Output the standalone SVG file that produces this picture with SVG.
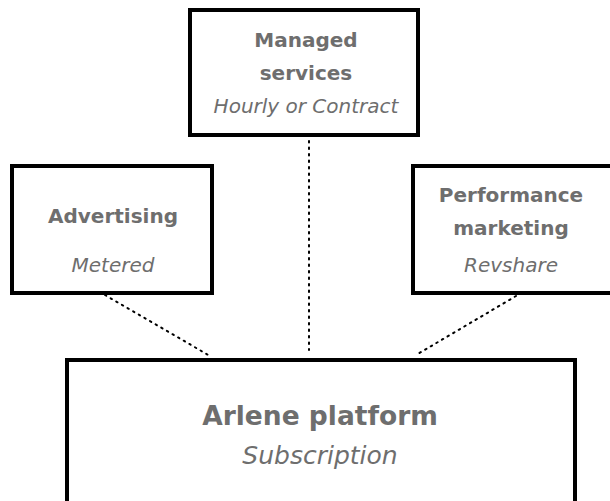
<svg xmlns="http://www.w3.org/2000/svg" width="610" height="501" viewBox="0 0 610 501">
<style>
.box{fill:#fff;stroke:#000;stroke-width:4}
.t{font-family:"DejaVu Sans",Roboto,sans-serif;fill:#6e6e6e;text-anchor:middle}
.b{font-weight:bold;font-size:20px}
.i{font-style:italic;font-size:20px}
.c{stroke:#000;stroke-width:2;stroke-dasharray:1.5 5;stroke-linecap:round;fill:none}
</style>
<rect width="610" height="501" fill="#fff"/>
<g id="connectors">
<line class="c" x1="105" y1="295" x2="210" y2="356"/>
<line class="c" x1="309" y1="141" x2="309" y2="350"/>
<line class="c" x1="516" y1="296" x2="416" y2="355"/>
</g>
<g id="managed">
<rect class="box" x="190" y="10" width="228" height="125"/>
<text class="t b" x="306" y="47">Managed</text>
<text class="t b" x="306" y="80">services</text>
<text class="t i" x="306" y="113">Hourly or Contract</text>
</g>
<g id="advertising">
<rect class="box" x="12" y="166" width="200" height="127"/>
<text class="t b" x="113" y="223">Advertising</text>
<text class="t i" x="113" y="272">Metered</text>
</g>
<g id="performance">
<rect class="box" x="413" y="166" width="200" height="127"/>
<text class="t b" x="511" y="202">Performance</text>
<text class="t b" x="511" y="235">marketing</text>
<text class="t i" x="511" y="272">Revshare</text>
</g>
<g id="platform">
<rect class="box" x="67" y="360" width="508" height="160"/>
<text class="t" x="320" y="425" font-size="26.5" font-weight="bold">Arlene platform</text>
<text class="t" x="320" y="464" font-size="25" font-style="italic">Subscription</text>
</g>
</svg>
